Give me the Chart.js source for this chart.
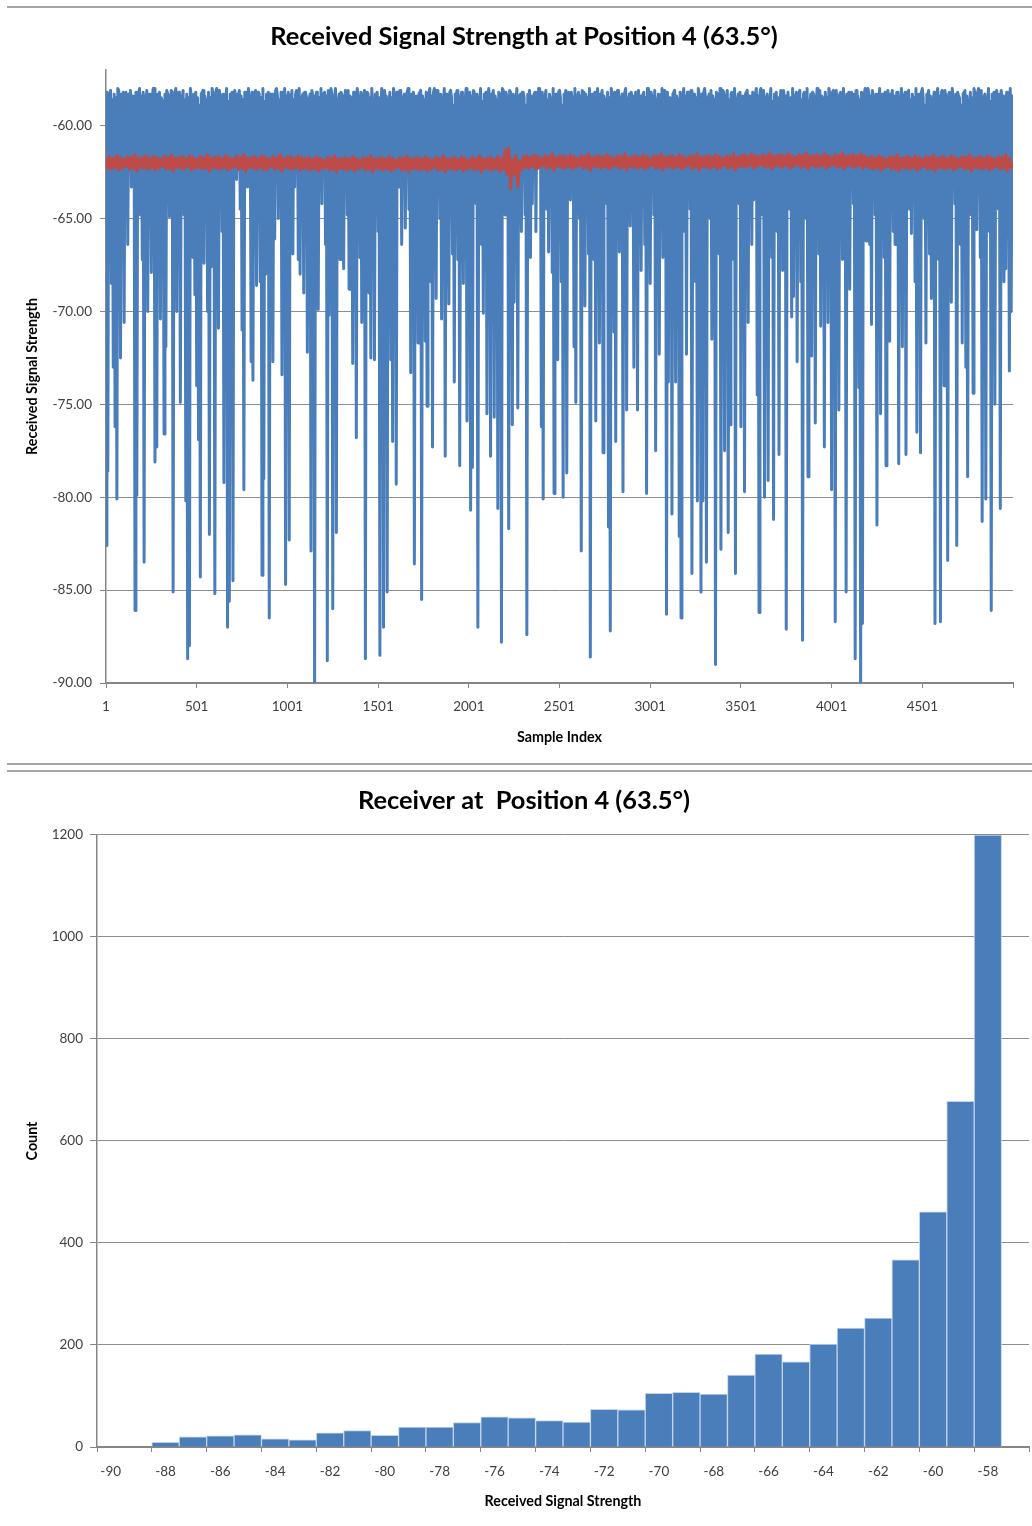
<!DOCTYPE html>
<html><head><meta charset="utf-8">
<script src="https://cdn.jsdelivr.net/npm/chart.js@4.4.1/dist/chart.umd.min.js"></script>
<style>
html,body{margin:0;padding:0;background:#fff;overflow:hidden;}
#page{position:relative;width:1032px;height:1526px;overflow:hidden;background:#fff;}
.sep{position:absolute;left:7px;right:0;height:2px;background:#a5a5a5;}
canvas{position:absolute;left:0;}
</style></head>
<body><div id="page">
<div class="sep" style="top:6px"></div>
<div class="sep" style="top:763px"></div>
<div class="sep" style="top:770px"></div>
<canvas id="c1" width="1048" height="764" style="top:0"></canvas>
<canvas id="c2" width="1048" height="762" style="top:764px"></canvas>
</div>
<script>
// ---------- chart 1 : received signal strength per sample ----------
const chart1Title = 'Received Signal Strength at Position 4 (63.5°)';
const chart1XTitle = 'Sample Index';
const chart1YTitle = 'Received Signal Strength';
const sampleTicks = [1, 501, 1001, 1501, 2001, 2501, 3001, 3501, 4001, 4501, 5001];
const rssTicks = [-90, -85, -80, -75, -70, -65, -60];
const blueStep = 5;    // samples between consecutive listed blue readings
const redStep = 10;    // samples between consecutive listed red readings

const blueRSS = [
-82.6,-58.2,-78.6,-58.4,-58.3,-58.1,-68.5,-58.6,-73,-58.3,-76.2,-58.5,-80.1,-58.0,-58.1,-58.7,-72.5,-58.3,-58.5,-58.2,
-70.6,-58.5,-58.2,-58.9,-66.4,-58.3,-58.6,-58.1,-63.3,-58.4,-58.4,-58.6,-86.1,-58.2,-79.9,-58.5,-58.2,-58.0,-64.8,-58.4,
-67.2,-58.2,-83.5,-58.4,-58.8,-58.1,-70,-58.6,-58.3,-58.3,-67.9,-58.5,-58.0,-58.0,-78.1,-58.7,-77.3,-58.3,-58.5,-58.2,
-70.4,-58.5,-58.7,-58.9,-76.6,-58.3,-71.9,-58.1,-58.3,-58.4,-64.9,-58.6,-58.1,-58.2,-85.1,-58.5,-58.5,-58.0,-70,-58.4,
-58.2,-58.2,-74.9,-58.4,-58.6,-58.1,-64.8,-58.6,-80.2,-58.3,-88.7,-58.5,-88,-58.0,-58.4,-58.7,-67.1,-58.3,-69.1,-58.2,
-74,-58.5,-76.9,-58.9,-84.3,-58.3,-58.2,-58.1,-67.4,-58.4,-58.8,-58.6,-70,-58.2,-82,-58.5,-67.6,-58.0,-58.3,-58.4,
-85.2,-58.2,-58.0,-58.4,-70.9,-58.1,-58.5,-58.6,-65.7,-58.3,-79.2,-58.5,-58.7,-58.0,-87,-58.7,-85.6,-58.3,-58.3,-58.2,
-84.5,-58.5,-58.1,-58.9,-62.9,-58.3,-58.5,-58.1,-64.5,-58.4,-71,-58.6,-79.6,-58.2,-58.2,-58.5,-63.3,-58.0,-58.6,-58.4,
-72.7,-58.2,-73.7,-58.4,-58.4,-58.1,-68.6,-58.6,-58.2,-58.3,-68.4,-58.5,-84.2,-58.0,-79,-58.7,-68,-58.3,-58.8,-58.2,
-86.5,-58.5,-58.3,-58.9,-72.7,-58.3,-66.1,-58.1,-58.0,-58.4,-65.0,-58.6,-64.3,-58.2,-73.4,-58.5,-58.5,-58.0,-84.7,-58.4,
-58.7,-58.2,-82.3,-58.4,-58.3,-58.1,-66.9,-58.6,-63.3,-58.3,-58.1,-58.5,-67.2,-58.0,-68,-58.7,-58.5,-58.3,-69,-58.2,
-58.2,-58.5,-72.2,-58.9,-58.6,-58.3,-82.9,-58.1,-58.4,-58.4,-90,-58.6,-58.2,-58.2,-69.9,-58.5,-58.8,-58.0,-64.2,-58.4,
-58.3,-58.2,-66.4,-58.4,-88.8,-58.1,-70.2,-58.6,-58.0,-58.3,-86,-58.5,-58.5,-58.0,-81.9,-58.7,-58.7,-58.3,-67.2,-58.2,
-58.3,-58.5,-67.7,-58.9,-58.1,-58.3,-64.8,-58.1,-68.8,-58.4,-58.5,-58.6,-72.8,-58.2,-58.2,-58.5,-76.8,-58.0,-58.6,-58.4,
-67.1,-58.2,-70.6,-58.4,-58.4,-58.1,-88.7,-58.6,-58.2,-58.3,-69,-58.5,-72.5,-58.0,-58.8,-58.7,-72.6,-58.3,-58.3,-58.2,
-65.7,-58.5,-88.5,-58.9,-58.0,-58.3,-87,-58.1,-58.5,-58.4,-85.1,-58.6,-58.7,-58.2,-72.6,-58.5,-77,-58.0,-58.3,-58.4,
-79.3,-58.2,-63.3,-58.4,-58.1,-58.1,-66.4,-58.6,-58.5,-58.3,-65.5,-58.5,-58.2,-58.0,-64.5,-58.7,-73.3,-58.3,-58.6,-58.2,
-83.6,-58.5,-58.4,-58.9,-71.7,-58.3,-58.2,-58.1,-85.5,-58.4,-58.8,-58.6,-71.6,-58.2,-75.1,-58.5,-58.3,-58.0,-68.4,-58.4,
-77.3,-58.2,-58.0,-58.4,-69.3,-58.1,-58.5,-58.6,-65.0,-58.3,-70.4,-58.5,-58.7,-58.0,-77.8,-58.7,-58.3,-58.3,-69.6,-58.2,
-58.1,-58.5,-66.9,-58.9,-73.8,-58.3,-58.5,-58.1,-67.2,-58.4,-78.3,-58.6,-58.2,-58.2,-68.5,-58.5,-58.6,-58.0,-75.9,-58.4,
-58.4,-58.2,-80.7,-58.4,-78.4,-58.1,-58.2,-58.6,-64.2,-58.3,-87,-58.5,-58.8,-58.0,-66.4,-58.7,-70.1,-58.3,-58.3,-58.2,
-75.5,-58.5,-58.0,-58.9,-77.8,-58.3,-58.5,-58.1,-75.7,-58.4,-58.7,-58.6,-80.6,-58.2,-58.3,-58.5,-87.8,-58.0,-58.1,-58.4,
-64.8,-58.2,-58.5,-58.4,-81.7,-58.1,-58.2,-58.6,-76.1,-58.3,-69.5,-58.5,-58.6,-58.0,-75.2,-58.7,-58.4,-58.3,-65.7,-58.2,
-58.2,-58.5,-64.8,-58.9,-87.4,-58.3,-58.8,-58.1,-67.1,-58.4,-64.2,-58.6,-58.3,-58.2,-65.7,-58.5,-62.3,-58.0,-58.0,-58.4,
-76.2,-58.2,-80.1,-58.4,-58.5,-58.1,-64.5,-58.6,-66.8,-58.3,-58.7,-58.5,-67.9,-58.0,-79.8,-58.7,-58.3,-58.3,-72.6,-58.2,
-58.1,-58.5,-68.4,-58.9,-80,-58.3,-58.5,-58.1,-78.7,-58.4,-58.2,-58.6,-64,-58.2,-58.6,-58.5,-71.9,-58.0,-74.9,-58.4,
-58.4,-58.2,-65.0,-58.4,-82.9,-58.1,-58.2,-58.6,-69.7,-58.3,-58.8,-58.5,-66.9,-58.0,-88.6,-58.7,-58.3,-58.3,-67.2,-58.2,
-75.9,-58.5,-58.0,-58.9,-71.7,-58.3,-58.5,-58.1,-77.6,-58.4,-58.7,-58.6,-64.2,-58.2,-81.6,-58.5,-87.2,-58.0,-58.3,-58.4,
-71.1,-58.2,-77,-58.4,-58.1,-58.1,-66.8,-58.6,-58.5,-58.3,-79.7,-58.5,-58.2,-58.0,-75.3,-58.7,-58.6,-58.3,-65.4,-58.2,
-58.4,-58.5,-73,-58.9,-58.2,-58.3,-75.3,-58.1,-58.8,-58.4,-67.8,-58.6,-58.3,-58.2,-66.4,-58.5,-79.8,-58.0,-58.0,-58.4,
-68.5,-58.2,-58.5,-58.4,-64.8,-58.1,-77.5,-58.6,-58.7,-58.3,-72.3,-58.5,-58.3,-58.0,-67.1,-58.7,-58.1,-58.3,-86.3,-58.2,
-73.8,-58.5,-58.5,-58.9,-80.9,-58.3,-58.2,-58.1,-73.8,-58.4,-58.6,-58.6,-82.1,-58.2,-86.5,-58.5,-58.4,-58.0,-65.7,-58.4,
-72.3,-58.2,-58.2,-58.4,-64.5,-58.1,-84.1,-58.6,-58.8,-58.3,-68.4,-58.5,-80.2,-58.0,-58.3,-58.7,-85.1,-58.3,-80.2,-58.2,
-58.0,-58.5,-83.5,-58.9,-58.5,-58.3,-65.0,-58.1,-71.5,-58.4,-58.7,-58.6,-89,-58.2,-58.3,-58.5,-66.9,-58.0,-82.8,-58.4,
-58.1,-58.2,-77.5,-58.4,-58.5,-58.1,-81.9,-58.6,-76.1,-58.3,-58.2,-58.5,-67.2,-58.0,-84.1,-58.7,-58.6,-58.3,-64.2,-58.2,
-76.2,-58.5,-58.4,-58.9,-79.7,-58.3,-58.2,-58.1,-70.6,-58.4,-58.8,-58.6,-66.4,-58.2,-64,-58.5,-58.3,-58.0,-74.5,-58.4,
-86.2,-58.2,-58.0,-58.4,-64.8,-58.1,-80,-58.6,-58.5,-58.3,-79.1,-58.5,-58.7,-58.0,-67.1,-58.7,-81.2,-58.3,-58.3,-58.2,
-65.7,-58.5,-77.7,-58.9,-58.1,-58.3,-67.8,-58.1,-58.5,-58.4,-87.1,-58.6,-58.2,-58.2,-64.5,-58.5,-70.3,-58.0,-69.2,-58.4,
-58.6,-58.2,-72.7,-58.4,-58.4,-58.1,-68.4,-58.6,-87.7,-58.3,-58.2,-58.5,-65.0,-58.0,-78.9,-58.7,-58.8,-58.3,-72.4,-58.2,
-58.3,-58.5,-76,-58.9,-58.0,-58.3,-66.9,-58.1,-70.8,-58.4,-58.5,-58.6,-77.3,-58.2,-58.7,-58.5,-70.6,-58.0,-58.3,-58.4,
-79.6,-58.2,-58.1,-58.4,-86.7,-58.1,-58.5,-58.6,-75.3,-58.3,-58.2,-58.5,-67.2,-58.0,-58.6,-58.7,-85.1,-58.3,-58.4,-58.2,
-68.8,-58.5,-58.2,-58.9,-64.2,-58.3,-88.7,-58.1,-58.8,-58.4,-74.1,-58.6,-90,-58.2,-86.8,-58.5,-58.3,-58.0,-66.2,-58.4,
-58.0,-58.2,-66.4,-58.4,-70.7,-58.1,-58.5,-58.6,-64.8,-58.3,-81.5,-58.5,-58.7,-58.0,-75.5,-58.7,-58.3,-58.3,-67.1,-58.2,
-78.3,-58.5,-58.1,-58.9,-71.6,-58.3,-58.5,-58.1,-65.7,-58.4,-66.4,-58.6,-58.2,-58.2,-78.2,-58.5,-58.6,-58.0,-71.9,-58.4,
-58.4,-58.2,-77.7,-58.4,-58.2,-58.1,-64.5,-58.6,-65.8,-58.3,-58.8,-58.5,-68.4,-58.0,-76.5,-58.7,-58.3,-58.3,-77.6,-58.2,
-58.0,-58.5,-65.0,-58.9,-71.7,-58.3,-58.5,-58.1,-66.9,-58.4,-69.3,-58.6,-58.7,-58.2,-86.8,-58.5,-58.3,-58.0,-67.2,-58.4,
-86.7,-58.2,-58.1,-58.4,-74,-58.1,-58.5,-58.6,-83.4,-58.3,-58.2,-58.5,-69.5,-58.0,-58.6,-58.7,-64.2,-58.3,-82.6,-58.2,
-58.4,-58.5,-66.4,-58.9,-71.7,-58.3,-58.2,-58.1,-73,-58.4,-78.9,-58.6,-58.8,-58.2,-64.8,-58.5,-74.4,-58.0,-58.3,-58.4,
-65.6,-58.2,-58.0,-58.4,-67.1,-58.1,-81.3,-58.6,-58.5,-58.3,-80.1,-58.5,-58.7,-58.0,-65.7,-58.7,-86.1,-58.3,-58.3,-58.2,
-75,-58.5,-58.1,-58.9,-64.5,-58.3,-80.6,-58.1,-58.5,-58.4,-68.4,-58.6,-67.7,-58.2,-58.2,-58.5,-73.2,-58.0,-70,-58.4,
-61.5
];

const redRSS = [
-61.7,-62.3,-61.65,-62.35,-61.75,-62.25,-61.6,-62.4,-61.7,-62.3,
-61.8,-62.2,-61.65,-62.35,-61.7,-62.3,-61.55,-62.45,-61.75,-62.25,
-61.7,-62.3,-61.6,-62.35,-61.75,-62.25,-61.65,-62.4,-61.7,-62.3,
-61.8,-62.2,-61.65,-62.35,-61.7,-62.3,-61.55,-62.45,-61.75,-62.25,
-61.7,-62.3,-61.65,-62.35,-61.75,-62.2,-61.6,-62.4,-61.7,-62.3,
-61.8,-62.25,-61.65,-62.35,-61.7,-62.3,-61.55,-62.45,-61.75,-62.25,
-61.7,-62.3,-61.65,-62.35,-61.75,-62.25,-61.6,-62.4,-61.7,-62.3,
-61.8,-62.2,-61.6,-62.35,-61.7,-62.3,-61.55,-62.45,-61.75,-62.25,
-61.7,-62.3,-61.65,-62.35,-61.75,-62.25,-61.6,-62.4,-61.7,-62.35,
-61.8,-62.2,-61.65,-62.35,-61.7,-62.3,-61.55,-62.45,-61.75,-62.25,
-61.7,-62.3,-61.65,-62.35,-61.75,-62.25,-61.6,-62.4,-61.7,-62.3,
-61.75,-62.35,-61.7,-62.4,-61.8,-62.3,-61.65,-62.45,-61.75,-62.35,
-61.85,-62.25,-61.7,-62.4,-61.75,-62.35,-61.6,-62.5,-61.8,-62.3,
-61.75,-62.35,-61.7,-62.4,-61.8,-62.3,-61.65,-62.45,-61.75,-62.35,
-61.85,-62.25,-61.7,-62.4,-61.75,-62.35,-61.6,-62.5,-61.8,-62.3,
-61.75,-62.35,-61.7,-62.4,-61.8,-62.3,-61.65,-62.45,-61.75,-62.35,
-61.85,-62.25,-61.7,-62.4,-61.75,-62.35,-61.6,-62.5,-61.8,-62.3,
-61.75,-62.35,-61.7,-62.4,-61.8,-62.3,-61.65,-62.45,-61.75,-62.35,
-61.85,-62.25,-61.7,-62.4,-61.75,-62.35,-61.6,-62.5,-61.8,-62.3,
-61.75,-62.35,-61.7,-62.4,-61.8,-62.3,-61.65,-62.45,-61.75,-62.35,
-61.85,-62.25,-61.7,-62.4,-61.75,-62.35,-61.6,-62.5,-61.8,-62.3,
-61.75,-62.35,-61.7,-62.4,-61.8,-62.3,-61.65,-62.45,-61.75,-62.35,
-61.3,-62.6,-61.2,-63.4,-61.8,-62.6,-61.6,-63.3,-61.9,-62.4,
-61.65,-62.25,-61.6,-62.3,-61.7,-62.2,-61.55,-62.35,-61.65,-62.25,
-61.75,-62.15,-61.6,-62.3,-61.65,-62.25,-61.5,-62.4,-61.7,-62.2,
-61.65,-62.25,-61.6,-62.3,-61.7,-62.2,-61.55,-62.35,-61.65,-62.25,
-61.75,-62.15,-61.6,-62.3,-61.65,-62.25,-61.5,-62.4,-61.7,-62.2,
-61.65,-62.25,-61.6,-62.3,-61.7,-62.2,-61.55,-62.35,-61.65,-62.25,
-61.75,-62.15,-61.6,-62.3,-61.65,-62.25,-61.5,-62.4,-61.7,-62.2,
-61.65,-62.25,-61.6,-62.3,-61.7,-62.2,-61.55,-62.35,-61.65,-62.25,
-61.75,-62.15,-61.6,-62.3,-61.65,-62.25,-61.5,-62.4,-61.7,-62.2,
-61.65,-62.25,-61.6,-62.3,-61.7,-62.2,-61.55,-62.35,-61.65,-62.25,
-61.75,-62.15,-61.6,-62.3,-61.65,-62.25,-61.5,-62.4,-61.7,-62.2,
-61.65,-62.25,-61.6,-62.3,-61.7,-62.2,-61.55,-62.35,-61.65,-62.25,
-61.75,-62.15,-61.6,-62.3,-61.65,-62.25,-61.5,-62.4,-61.7,-62.2,
-61.6,-62.2,-61.55,-62.25,-61.65,-62.15,-61.5,-62.3,-61.6,-62.2,
-61.7,-62.1,-61.55,-62.25,-61.6,-62.2,-61.45,-62.35,-61.65,-62.15,
-61.6,-62.2,-61.55,-62.25,-61.65,-62.15,-61.5,-62.3,-61.6,-62.2,
-61.7,-62.1,-61.55,-62.25,-61.6,-62.2,-61.45,-62.35,-61.65,-62.15,
-61.6,-62.2,-61.55,-62.25,-61.65,-62.15,-61.5,-62.3,-61.6,-62.2,
-61.7,-62.1,-61.55,-62.25,-61.6,-62.2,-61.45,-62.35,-61.65,-62.15,
-61.6,-62.2,-61.55,-62.25,-61.65,-62.15,-61.5,-62.3,-61.6,-62.2,
-61.7,-62.3,-61.65,-62.35,-61.75,-62.25,-61.6,-62.4,-61.7,-62.3,
-61.8,-62.2,-61.65,-62.35,-61.7,-62.3,-61.55,-62.45,-61.75,-62.25,
-61.7,-62.3,-61.65,-62.35,-61.75,-62.25,-61.6,-62.4,-61.7,-62.3,
-61.8,-62.2,-61.65,-62.35,-61.7,-62.3,-61.55,-62.45,-61.75,-62.25,
-61.7,-62.3,-61.65,-62.35,-61.75,-62.25,-61.6,-62.4,-61.7,-62.3,
-61.8,-62.2,-61.65,-62.35,-61.7,-62.3,-61.55,-62.45,-61.75,-62.25,
-61.7,-62.3,-61.65,-62.35,-61.75,-62.25,-61.6,-62.4,-61.7,-62.3,
-61.8,-62.2,-61.65,-62.35,-61.7,-62.3,-61.55,-62.45,-61.75,-62.25,
-62.0
];

// ---------- chart 2 : histogram ----------
const chart2Title = 'Receiver at  Position 4 (63.5°)';
const chart2XTitle = 'Received Signal Strength';
const chart2YTitle = 'Count';
const binLabels = [-90,-89,-88,-87,-86,-85,-84,-83,-82,-81,-80,-79,-78,-77,-76,-75,-74,-73,-72,-71,-70,-69,-68,-67,-66,-65,-64,-63,-62,-61,-60,-59,-58,-57];
const binCounts = [0,0,9,20,22,24,16,14,28,32,23,39,39,48,59,57,52,49,74,73,105,107,104,141,182,167,202,233,253,367,461,678,1200,0];
const countTicks = [0, 200, 400, 600, 800, 1000, 1200];

// ---------- styling ----------
const FONT = 'Lato, "Open Sans", "DejaVu Sans", sans-serif';
const TEXT = '#404040';
const AXIS = '#868686';
const GRID = '#8e8e8e';
const BLUE = '#4a7ebb';
const RED = '#be4b48';

Chart.defaults.font.family = FONT;
Chart.defaults.color = TEXT;

const titleFont = {family: FONT, size: 25.4, weight: 'bold', lineHeight: 1.2};
const tickFont = {family: FONT, size: 13.5, lineHeight: 1.2};
const axisTitleFont = {family: FONT, size: 14.3, weight: 'bold', lineHeight: 1.2};

// empty right-hand spacer axis: keeps the plot edge while the title centres on the page text block
const spacerAxis = w => ({
  type: 'linear', position: 'right', display: true,
  grid: {display: false, drawTicks: false}, border: {display: false},
  ticks: {display: false}, title: {display: false},
  afterFit: s => { s.width = w; }
});

const blueData = blueRSS.map((v, i) => ({x: 1 + i * blueStep, y: v}));
const redData = redRSS.map((v, i) => ({x: 1 + i * redStep, y: v}));

new Chart(document.getElementById('c1'), {
  type: 'line',
  data: {datasets: [
    {label: 'RSS', data: blueData, borderColor: BLUE, borderWidth: 3, pointRadius: 0,
     borderJoinStyle: 'round', borderCapStyle: 'round', tension: 0, order: 1},
    {label: 'Average', data: redData, borderColor: RED, borderWidth: 3, pointRadius: 0,
     borderJoinStyle: 'round', tension: 0, order: 0}
  ]},
  options: {
    responsive: false, animation: false, devicePixelRatio: 1, events: [],
    layout: {padding: {left: 0, right: 0, top: 0, bottom: 0}},
    plugins: {
      legend: {display: false}, tooltip: {enabled: false},
      title: {display: true, text: chart1Title, color: '#000', font: titleFont,
              padding: {top: 21.8, bottom: 17.7}}
    },
    scales: {
      x: {
        type: 'linear', min: 1, max: 5001,
        afterBuildTicks: s => { s.ticks = sampleTicks.map(v => ({value: v})); },
        afterFit: s => { s.height = 81; },
        ticks: {autoSkip: false, maxRotation: 0, minRotation: 0, padding: 10.5, font: tickFont, color: TEXT,
                callback: v => (v === sampleTicks[sampleTicks.length - 1] ? '' : String(v))},
        grid: {drawOnChartArea: false, drawTicks: true, tickLength: 5, tickColor: AXIS, tickWidth: 1},
        border: {display: true, color: AXIS, width: 2},
        title: {display: true, text: chart1XTitle, color: '#000', font: axisTitleFont, padding: {top: 0, bottom: 18.4}}
      },
      y: {
        type: 'linear', min: -90, max: -57,
        afterBuildTicks: s => { s.ticks = rssTicks.map(v => ({value: v})); },
        afterFit: s => { s.width = 106; },
        ticks: {padding: 8, font: tickFont, color: TEXT, callback: v => Number(v).toFixed(2)},
        grid: {color: GRID, lineWidth: 1, drawTicks: true, tickLength: 6, tickColor: AXIS},
        border: {display: true, color: AXIS, width: 1.5},
        title: {display: true, text: chart1YTitle, color: '#000', font: axisTitleFont, padding: {top: 23.4, bottom: 0}}
      },
      ySpacer: spacerAxis(35)
    }
  }
});

new Chart(document.getElementById('c2'), {
  type: 'bar',
  data: {labels: binLabels.map(String), datasets: [
    {label: 'Count', data: binCounts, backgroundColor: BLUE, borderColor: '#c3d4ea', borderWidth: 1,
     barPercentage: 1, categoryPercentage: 1, yAxisID: 'y'}
  ]},
  options: {
    responsive: false, animation: false, devicePixelRatio: 1, events: [],
    layout: {padding: {left: 0, right: 0, top: 0, bottom: 0}},
    plugins: {
      legend: {display: false}, tooltip: {enabled: false},
      title: {display: true, text: chart2Title, color: '#000', font: titleFont,
              padding: {top: 21.8, bottom: 18.7}}
    },
    scales: {
      x: {
        type: 'category', offset: true,
        afterFit: s => { s.height = 79; },
        ticks: {autoSkip: false, maxRotation: 0, minRotation: 0, padding: 11.4, font: tickFont, color: TEXT,
                callback: (v, i) => (i % 2 === 0 ? String(binLabels[i]) : '')},
        grid: {offset: true, drawOnChartArea: false, drawTicks: true, tickLength: 5, tickWidth: 1,
               tickColor: ctx => (ctx.index === undefined || ctx.index % 2 === 0 ? AXIS : 'rgba(0,0,0,0)')},
        border: {display: true, color: AXIS, width: 2},
        title: {display: true, text: chart2XTitle, color: '#000', font: axisTitleFont, padding: {top: 0, bottom: 16.4}}
      },
      y: {
        type: 'linear', min: 0, max: 1200,
        afterBuildTicks: s => { s.ticks = countTicks.map(v => ({value: v})); },
        afterFit: s => { s.width = 97; },
        ticks: {padding: 7, font: tickFont, color: TEXT, callback: v => String(v)},
        grid: {color: GRID, lineWidth: 1, drawTicks: true, tickLength: 7, tickColor: AXIS},
        border: {display: true, color: AXIS, width: 1.5},
        title: {display: true, text: chart2YTitle, color: '#000', font: axisTitleFont, padding: {top: 23.4, bottom: 0}}
      },
      ySpacer: spacerAxis(19)
    }
  }
});
</script></body></html>
